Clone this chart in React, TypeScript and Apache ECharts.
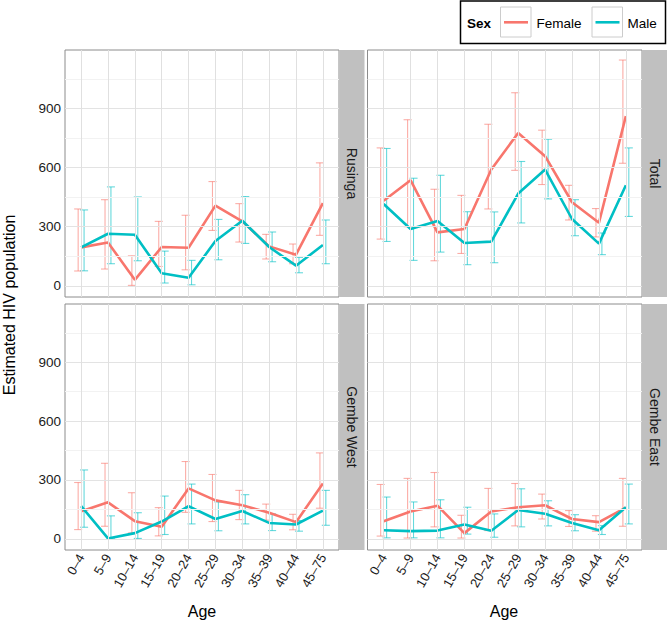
import React, { useEffect, useRef } from 'react';
import * as echarts from 'echarts';

// ---------- data ----------
const ages = ['0–4', '5–9', '10–14', '15–19', '20–24', '25–29', '30–34', '35–39', '40–44', '45–75'];
const panelNames = ['Rusinga', 'Total', 'Gembe West', 'Gembe East'];
const sexes = ['Female', 'Male'];
const yMajor = [0, 300, 600, 900];
const yMinor = [150, 450, 750, 1050];

const rusingaFemale = [195, 220, 30, 197, 193, 407, 327, 200, 158, 420];
const rusingaFemaleLo = [75, 85, 2, 98, 81, 281, 222, 136, 112, 256];
const rusingaFemaleHi = [390, 437, 152, 327, 358, 529, 417, 261, 212, 624];
const rusingaMale = [195, 264, 259, 64, 41, 227, 330, 197, 102, 207];
const rusingaMaleLo = [76, 112, 127, 14, 5, 132, 215, 122, 66, 112];
const rusingaMaleHi = [385, 502, 451, 176, 129, 337, 453, 273, 144, 334];

const totalFemale = [432, 536, 271, 288, 590, 776, 658, 424, 320, 861];
const totalFemaleLo = [237, 300, 127, 164, 390, 586, 514, 334, 248, 622];
const totalFemaleHi = [700, 843, 490, 459, 820, 980, 790, 510, 392, 1146];
const totalMale = [415, 288, 329, 217, 224, 468, 590, 339, 214, 510];
const totalMaleLo = [225, 129, 171, 107, 117, 319, 441, 254, 158, 352];
const totalMaleHi = [697, 546, 561, 376, 375, 631, 744, 437, 268, 700];

const westFemale = [140, 186, 90, 62, 257, 196, 171, 133, 85, 282];
const westFemaleLo = [47, 64, 30, 15, 135, 88, 98, 95, 46, 156];
const westFemaleHi = [287, 385, 235, 159, 394, 328, 247, 177, 125, 438];
const westMale = [167, 2, 29, 88, 166, 101, 142, 81, 73, 144];
const westMaleLo = [59, 0, 2, 22, 76, 41, 76, 42, 39, 69];
const westMaleHi = [351, 117, 133, 218, 279, 188, 225, 127, 93, 247];

const eastFemale = [90, 139, 169, 29, 139, 161, 171, 101, 85, 159];
const eastFemaleLo = [14, 4, 61, 4, 42, 66, 101, 63, 39, 64];
const eastFemaleHi = [277, 308, 338, 120, 257, 282, 228, 144, 118, 308];
const eastMale = [44, 39, 42, 73, 41, 147, 128, 81, 44, 161];
const eastMaleLo = [5, 5, 5, 24, 8, 61, 66, 41, 22, 76];
const eastMaleHi = [213, 188, 199, 161, 127, 255, 194, 123, 67, 279];

// ---------- layout / style ----------
const FONT = '"Liberation Sans", Arial, Helvetica, sans-serif';
const COLORS = ['#F8766D', '#00BFC4'];
const ERR_COLORS = ['rgba(248,118,109,0.6)', 'rgba(0,191,196,0.6)'];
const boxes = [
  { left: 65, top: 50, width: 274, height: 247 },
  { left: 367.5, top: 50, width: 274.5, height: 247 },
  { left: 65, top: 304, width: 274, height: 246 },
  { left: 367.5, top: 304, width: 274.5, height: 246 },
];
const stripBoxes = [
  { x: 339.5, y: 50, w: 25, h: 247 },
  { x: 642, y: 50, w: 25, h: 247 },
  { x: 339.5, y: 304, w: 25, h: 246 },
  { x: 642, y: 304, w: 25, h: 246 },
];

const panelData = [
  [[rusingaFemale, rusingaFemaleLo, rusingaFemaleHi], [rusingaMale, rusingaMaleLo, rusingaMaleHi]],
  [[totalFemale, totalFemaleLo, totalFemaleHi], [totalMale, totalMaleLo, totalMaleHi]],
  [[westFemale, westFemaleLo, westFemaleHi], [westMale, westMaleLo, westMaleHi]],
  [[eastFemale, eastFemaleLo, eastFemaleHi], [eastMale, eastMaleLo, eastMaleHi]],
];

const ageIdx = ages.map((_, i) => i);

function buildOption() {
  const grid = boxes.map((b) => ({
    ...b,
    show: true,
    backgroundColor: '#ffffff',
    borderColor: '#8c8c8c',
    borderWidth: 1,
    containLabel: false,
  }));

  const xAxis = boxes.map((_, g) => ({
    type: 'value',
    gridIndex: g,
    min: -0.6,
    max: 9.6,
    axisLine: { show: false },
    splitLine: { show: false },
    axisTick: {
      show: g >= 2,
      customValues: ageIdx,
      length: 5,
      lineStyle: { color: '#333', width: 1 },
    },
    axisLabel: {
      show: g >= 2,
      customValues: ageIdx,
      formatter: (v: number) => ages[Math.round(v)],
      rotate: 60,
      fontSize: 13,
      color: '#1a1a1a',
      margin: 5,
      fontFamily: FONT,
    },
  }));

  const yAxis = boxes.map((_, g) => ({
    type: 'value',
    gridIndex: g,
    min: -57,
    max: 1197,
    axisLine: { show: false },
    splitLine: { show: false },
    axisTick: {
      show: g % 2 === 0,
      customValues: yMajor,
      length: 5,
      lineStyle: { color: '#333', width: 1 },
    },
    axisLabel: {
      show: g % 2 === 0,
      customValues: yMajor,
      fontSize: 13.5,
      color: '#1a1a1a',
      margin: 4,
      fontFamily: FONT,
    },
  }));

  const gridLineData = [
    ...yMinor.map((v) => ({ yAxis: v, lineStyle: { color: '#f2f2f2' } })),
    ...yMajor.map((v) => ({ yAxis: v, lineStyle: { color: '#e3e3e3' } })),
    ...ageIdx.map((v) => ({ xAxis: v, lineStyle: { color: '#e0e0e0' } })),
  ];

  const series: any[] = [];
  boxes.forEach((_, g) => {
    series.push({
      type: 'line',
      name: 'grid' + g,
      xAxisIndex: g,
      yAxisIndex: g,
      data: [],
      z: 1,
      silent: true,
      markLine: {
        silent: true,
        symbol: ['none', 'none'],
        label: { show: false },
        emphasis: { disabled: true },
        lineStyle: { type: 'solid', width: 1 },
        animation: false,
        data: gridLineData,
      },
    });
    panelData[g].forEach((sd, s) => {
      const [vals, lo, hi] = sd;
      const dodge = s === 0 ? -0.11 : 0.11;
      const errColor = ERR_COLORS[s];
      series.push({
        type: 'custom',
        name: sexes[s] + ' error',
        xAxisIndex: g,
        yAxisIndex: g,
        z: 2,
        silent: true,
        clip: false,
        data: lo.map((l, i) => [i, l, hi[i]]),
        encode: { x: 0, y: [1, 2] },
        renderItem: (params: any, api: any) => {
          const x = api.value(0) + dodge;
          const pLo = api.coord([x, api.value(1)]);
          const pHi = api.coord([x, api.value(2)]);
          const cl = api.coord([x - 0.15, api.value(1)])[0];
          const cr = api.coord([x + 0.15, api.value(1)])[0];
          const st = { stroke: errColor, lineWidth: 1.1, fill: 'none' };
          return {
            type: 'group',
            children: [
              { type: 'line', shape: { x1: pLo[0], y1: pLo[1], x2: pHi[0], y2: pHi[1] }, style: st },
              { type: 'line', shape: { x1: cl, y1: pLo[1], x2: cr, y2: pLo[1] }, style: st },
              { type: 'line', shape: { x1: cl, y1: pHi[1], x2: cr, y2: pHi[1] }, style: st },
            ],
          };
        },
      });
      series.push({
        type: 'line',
        name: sexes[s],
        xAxisIndex: g,
        yAxisIndex: g,
        z: 3,
        silent: true,
        showSymbol: false,
        symbol: 'none',
        data: vals.map((v, i) => [i, v]),
        lineStyle: { color: COLORS[s], width: 2.6 },
        itemStyle: { color: COLORS[s] },
      });
    });
  });

  const graphic: any[] = [];
  stripBoxes.forEach((sb, g) => {
    graphic.push({
      type: 'rect',
      shape: { x: sb.x, y: sb.y, width: sb.w, height: sb.h },
      style: { fill: '#c0c0c0' },
      silent: true,
    });
    graphic.push({
      type: 'text',
      x: sb.x + sb.w / 2,
      y: sb.y + sb.h / 2,
      rotation: -Math.PI / 2,
      style: {
        text: panelNames[g],
        fontSize: 14,
        fontFamily: FONT,
        fill: '#1a1a1a',
        align: 'center',
        verticalAlign: 'middle',
      },
      silent: true,
    });
  });

  // axis titles
  graphic.push({
    type: 'text',
    x: 9,
    y: 305,
    rotation: Math.PI / 2,
    style: { text: 'Estimated HIV population', fontSize: 16, fontFamily: FONT, fill: '#000', align: 'center', verticalAlign: 'middle' },
    silent: true,
  });
  [202, 504].forEach((x) => {
    graphic.push({
      type: 'text',
      x,
      y: 611,
      style: { text: 'Age', fontSize: 16, fontFamily: FONT, fill: '#000', align: 'center', verticalAlign: 'middle' },
      silent: true,
    });
  });

  // legend
  graphic.push({
    type: 'rect',
    shape: { x: 460.5, y: 1, width: 205, height: 42.5 },
    style: { fill: '#fff', stroke: '#000', lineWidth: 1.5 },
    silent: true,
  });
  graphic.push({
    type: 'text',
    x: 467,
    y: 23,
    style: { text: 'Sex', fontSize: 13.5, fontWeight: 'bold', fontFamily: FONT, fill: '#000', align: 'left', verticalAlign: 'middle' },
    silent: true,
  });
  const keyX = [500.5, 592];
  const labelX = [536.5, 627.5];
  sexes.forEach((s, i) => {
    graphic.push({
      type: 'rect',
      shape: { x: keyX[i], y: 7, width: 30.5, height: 30 },
      style: { fill: '#fff', stroke: '#cccccc', lineWidth: 1 },
      silent: true,
    });
    graphic.push({
      type: 'line',
      shape: { x1: keyX[i] + 3.5, y1: 22.3, x2: keyX[i] + 27.5, y2: 22.3 },
      style: { stroke: COLORS[i], lineWidth: 2.6 },
      silent: true,
    });
    graphic.push({
      type: 'text',
      x: labelX[i],
      y: 23,
      style: { text: s, fontSize: 13.5, fontFamily: FONT, fill: '#000', align: 'left', verticalAlign: 'middle' },
      silent: true,
    });
  });

  return {
    animation: false,
    backgroundColor: '#ffffff',
    textStyle: { fontFamily: FONT },
    grid,
    xAxis,
    yAxis,
    series,
    graphic,
  };
}

export default function App() {
  const ref = useRef<HTMLDivElement>(null);
  useEffect(() => {
    if (!ref.current) return;
    const chart = echarts.init(ref.current, undefined, { renderer: 'svg' });
    chart.setOption(buildOption() as any);
    return () => chart.dispose();
  }, []);
  return (
    <div
      ref={ref}
      style={{ position: 'absolute', left: 0, top: 0, width: 667, height: 621, background: '#fff' }}
    />
  );
}
